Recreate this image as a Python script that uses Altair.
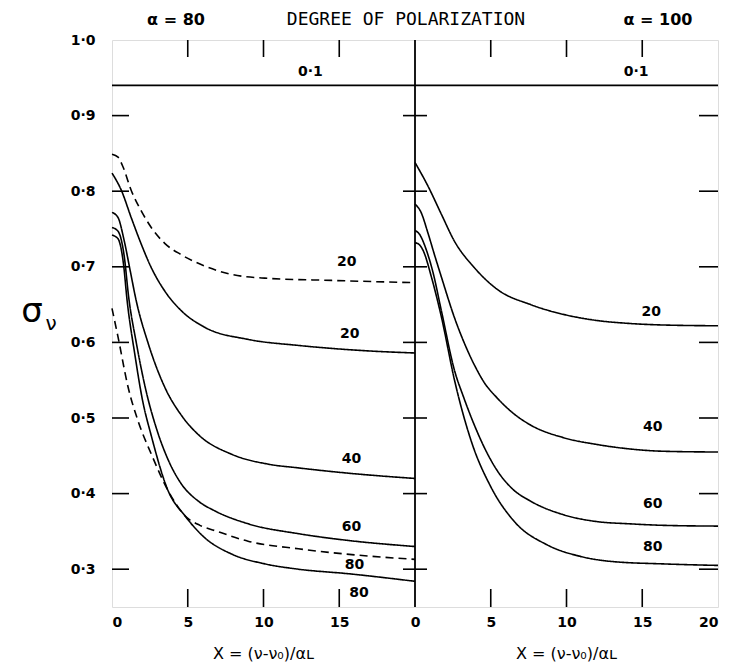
import altair as alt
import pandas as pd

# ---------------- data ----------------
X_TICKS = [5, 10, 15]
Y_TICKS = [0.3, 0.4, 0.5, 0.6, 0.7, 0.8, 0.9]
Y_LABELS = [0.3, 0.4, 0.5, 0.6, 0.7, 0.8, 0.9, 1.0]
X_LABELS = [0, 5, 10, 15, 20, 25, 30, 35, 40]   # 20..40 = right panel 0..20
PANEL_SPAN = 20
MID_BORDER = [20]

# left panel (alpha = 80)
L01_x = [0, 20]
L01_y = [0.94, 0.94]
Ld20_x = [0, 0.4, 0.73, 1.27, 1.93, 2.59, 3.48, 4.57, 6.12, 7.88, 10.08, 14.5, 20]
Ld20_y = [0.849, 0.845, 0.832, 0.801, 0.774, 0.752, 0.731, 0.716, 0.701, 0.690, 0.685, 0.682, 0.679]
Ls20_x = [0, 0.62, 1.27, 1.93, 2.59, 3.48, 4.57, 6.12, 8.98, 12.3, 16.7, 20]
Ls20_y = [0.824, 0.801, 0.765, 0.730, 0.699, 0.668, 0.642, 0.620, 0.604, 0.596, 0.589, 0.586]
L40_x = [0, 0.4, 0.8, 1.2, 1.6, 2.4, 3.5, 4.6, 5.7, 7.9, 10.3, 12.3, 15.6, 20]
L40_y = [0.772, 0.765, 0.735, 0.695, 0.655, 0.598, 0.540, 0.503, 0.478, 0.452, 0.439, 0.434, 0.427, 0.42]
L60_x = [0, 0.4, 0.8, 1.1, 1.6, 2.2, 3.0, 3.7, 4.57, 5.7, 6.8, 9.0, 12.3, 15.6, 20]
L60_y = [0.752, 0.747, 0.715, 0.66, 0.60, 0.54, 0.482, 0.445, 0.413, 0.39, 0.377, 0.36, 0.347, 0.338, 0.330]
Ld80_x = [0, 0.4, 1.06, 1.72, 2.6, 3.7, 4.8, 5.8, 6.8, 8.98, 12.3, 16, 20]
Ld80_y = [0.645, 0.607, 0.541, 0.496, 0.452, 0.404, 0.371, 0.358, 0.351, 0.337, 0.327, 0.319, 0.313]
Ls80_x = [0, 0.4, 0.75, 1.0, 1.5, 2.0, 2.6, 3.7, 4.8, 6.1, 7.9, 10.1, 12.3, 15.6, 20]
Ls80_y = [0.742, 0.737, 0.705, 0.655, 0.585, 0.525, 0.476, 0.404, 0.371, 0.342, 0.32, 0.307, 0.300, 0.294, 0.284]

# right panel (alpha = 100)
R01_x = [0, 20]
R01_y = [0.94, 0.94]
R20_x = [0, 0.85, 1.73, 2.6, 3.91, 5.44, 7.63, 9.81, 12, 14.2, 16.4, 20]
R20_y = [0.838, 0.807, 0.770, 0.734, 0.699, 0.670, 0.650, 0.637, 0.629, 0.625, 0.623, 0.622]
R40_x = [0, 0.4, 0.85, 1.3, 1.75, 2.6, 3.3, 3.9, 4.6, 5.4, 6.5, 7.6, 9.8, 12, 14.2, 16.4, 20]
R40_y = [0.783, 0.772, 0.745, 0.715, 0.686, 0.633, 0.597, 0.571, 0.546, 0.527, 0.506, 0.491, 0.474, 0.465, 0.459, 0.456, 0.455]
R60_x = [0, 0.3, 0.7, 1.17, 1.75, 2.62, 3.2, 3.91, 4.6, 5.44, 6.5, 7.63, 9.81, 12, 14.2, 16.4, 20]
R60_y = [0.748, 0.743, 0.725, 0.694, 0.641, 0.562, 0.528, 0.491, 0.46, 0.430, 0.405, 0.39, 0.372, 0.363, 0.36, 0.358, 0.357]
R80_x = [0, 0.3, 0.55, 1.09, 1.75, 2.62, 3.72, 5.03, 6.56, 8.74, 10.9, 13.1, 16.4, 20]
R80_y = [0.732, 0.729, 0.721, 0.686, 0.633, 0.549, 0.469, 0.408, 0.363, 0.332, 0.317, 0.31, 0.307, 0.305]

# curve labels
L_LAB_T = ["0·1", "20", "20", "40", "60", "80", "80"]
L_LAB_X = [13.1, 15.5, 15.7, 15.8, 15.8, 16.0, 16.3]
L_LAB_Y = [0.958, 0.706, 0.611, 0.446, 0.356, 0.305, 0.269]
R_LAB_T = ["0·1", "20", "40", "60", "80"]
R_LAB_X = [14.6, 15.6, 15.7, 15.7, 15.7]
R_LAB_Y = [0.958, 0.640, 0.488, 0.386, 0.329]

TITLE = "DEGREE OF POLARIZATION"
LEFT_TOP = "α = 80"
RIGHT_TOP = "α = 100"
X_TITLE = "X = (ν-ν₀)/αʟ"

# ---------------- build tables ----------------
W, H = 606, 567
PW = W / 2
FONT = "DejaVu Sans"

curves = [
    ("L", "01", "solid", L01_x, L01_y),
    ("L", "d20", "dashed", Ld20_x, Ld20_y),
    ("L", "s20", "solid", Ls20_x, Ls20_y),
    ("L", "40", "solid", L40_x, L40_y),
    ("L", "60", "solid", L60_x, L60_y),
    ("L", "d80", "dashed", Ld80_x, Ld80_y),
    ("L", "s80", "solid", Ls80_x, Ls80_y),
    ("R", "01", "solid", R01_x, R01_y),
    ("R", "20", "solid", R20_x, R20_y),
    ("R", "40", "solid", R40_x, R40_y),
    ("R", "60", "solid", R60_x, R60_y),
    ("R", "80", "solid", R80_x, R80_y),
]
curve_df = pd.concat(
    [pd.DataFrame({"x": xs, "y": ys, "panel": p, "series": p + n, "style": s}) for p, n, s, xs, ys in curves],
    ignore_index=True,
)
label_df = pd.concat([
    pd.DataFrame({"t": L_LAB_T, "x": L_LAB_X, "y": L_LAB_Y, "panel": "L"}),
    pd.DataFrame({"t": R_LAB_T, "x": R_LAB_X, "y": R_LAB_Y, "panel": "R"}),
], ignore_index=True)
xtick_df = pd.concat([
    pd.DataFrame({"x": X_TICKS, "panel": "L"}),
    pd.DataFrame({"x": X_TICKS, "panel": "R"}),
], ignore_index=True)
ytick_df = pd.DataFrame({"y": Y_TICKS})

shift = f"datum.panel == 'R' ? datum.x + {PANEL_SPAN} : datum.x"
XS = alt.Scale(domain=[0, 2 * PANEL_SPAN], nice=False, zero=False)
YS = alt.Scale(domain=[0.25, 1.0], nice=False, zero=False)

x_axis = alt.Axis(
    values=X_LABELS,
    labelExpr=f"datum.value >= {PANEL_SPAN} ? format(datum.value - {PANEL_SPAN}, 'd') : format(datum.value, 'd')",
    ticks=False, tickSize=0, domain=False, grid=False, labelPadding=8,
    labelFontSize=14, labelFontWeight="bold", labelColor="black", labelFont=FONT,
    labelOverlap=False, title=None,
)
y_axis = alt.Axis(
    values=Y_LABELS,
    labelExpr="replace(format(datum.value, '.1f'), '.', '·')",
    ticks=False, tickSize=0, domain=False, grid=False, labelPadding=17,
    labelFontSize=14, labelFontWeight="bold", labelColor="black", labelFont=FONT, title=None,
)

lines = alt.Chart(curve_df).transform_calculate(xx=shift).mark_line(
    interpolate="monotone", color="black", strokeWidth=1.6
).encode(
    x=alt.X("xx:Q", scale=XS, axis=x_axis),
    y=alt.Y("y:Q", scale=YS, axis=y_axis),
    detail="series:N",
    strokeDash=alt.StrokeDash("style:N", scale=alt.Scale(domain=["solid", "dashed"], range=[[1, 0], [8, 5]]), legend=None),
)

labels = alt.Chart(label_df).transform_calculate(xx=shift).mark_text(
    fontSize=14, fontWeight="bold", font=FONT, color="black", align="center", baseline="middle"
).encode(x=alt.X("xx:Q", title=None), y=alt.Y("y:Q", title=None), text="t:N")

rule = dict(color="black", strokeWidth=1.6)
mid = alt.Chart(pd.DataFrame({"x": MID_BORDER})).mark_rule(color="black", strokeWidth=1.8).encode(
    x=alt.X("x:Q", title=None), y=alt.value(0), y2=alt.value(H))
y_left = alt.Chart(ytick_df).mark_rule(**rule).encode(
    x=alt.value(0), x2=alt.value(17), y=alt.Y("y:Q", title=None))
y_mid = alt.Chart(ytick_df).mark_rule(**rule).encode(
    x=alt.value(PW - 12), x2=alt.value(PW + 12), y=alt.Y("y:Q", title=None))
y_right = alt.Chart(ytick_df).mark_rule(**rule).encode(
    x=alt.value(W - 19), x2=alt.value(W), y=alt.Y("y:Q", title=None))
x_top = alt.Chart(xtick_df).transform_calculate(xx=shift).mark_rule(**rule).encode(
    x=alt.X("xx:Q", title=None), y=alt.value(0), y2=alt.value(17))
x_bot = alt.Chart(xtick_df).transform_calculate(xx=shift).mark_rule(**rule).encode(
    x=alt.X("xx:Q", title=None), y=alt.value(H - 18), y2=alt.value(H))


def one_text(text, x, y, size, weight="normal", font=FONT):
    return alt.Chart(pd.DataFrame({"t": [text]})).mark_text(
        fontSize=size, fontWeight=weight, font=font, color="black",
        align="center", baseline="middle"
    ).encode(x=alt.value(x), y=alt.value(y), text="t:N")


texts = [
    one_text(LEFT_TOP, 64, -20, 16, "bold"),
    one_text(TITLE, 294, -20, 18, "normal", "DejaVu Sans Mono"),
    one_text(RIGHT_TOP, PW + 243, -20, 16, "bold"),
    one_text(X_TITLE, PW / 2, H + 47, 16),
    one_text(X_TITLE, PW + PW / 2, H + 47, 16),
    one_text("σ", -80, 272, 34),
    one_text("ν", -61, 284, 20),
]

chart = alt.layer(lines, labels, mid, y_left, y_mid, y_right, x_top, x_bot, *texts).properties(
    width=W, height=H,
    padding={"left": 13, "top": 3, "right": 0, "bottom": 0},
).configure_view(stroke="black", strokeWidth=2).configure(font=FONT, background="white")

chart.save("out.html", embed_options={"renderer": "svg", "actions": False})
